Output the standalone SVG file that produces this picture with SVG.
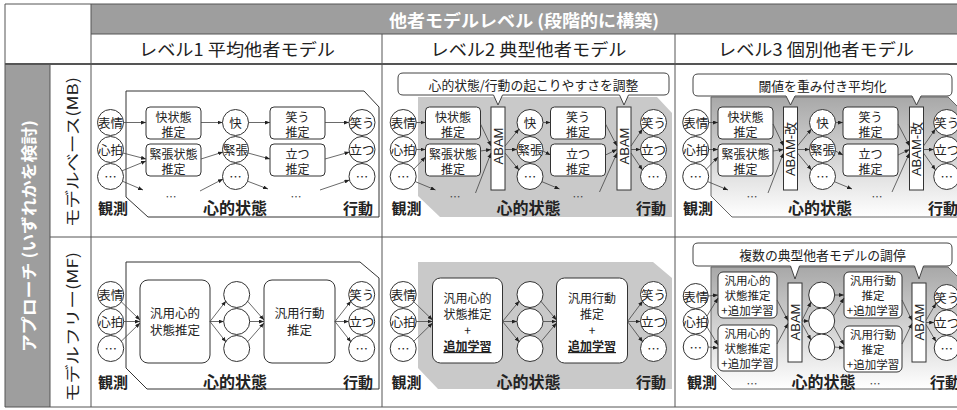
<svg xmlns="http://www.w3.org/2000/svg" width="957" height="410" viewBox="0 0 957 410">
<defs>
<style>
text{font-family:"Noto Sans CJK JP","Noto Sans CJK SC",sans-serif;fill:#222;text-anchor:middle;dominant-baseline:central}
.w{fill:#fff;font-weight:700}
.hd{font-size:17px}
.rl{font-size:15px}
.c{fill:#fff;stroke:#333;stroke-width:1}
.b{fill:#fff;stroke:#333;stroke-width:1}
.t{font-size:12.5px}
.bt{font-size:12px}
.t12{font-size:11.5px}
.lb{font-size:15px;font-weight:700;dominant-baseline:auto}
.ms{font-size:16px;font-weight:700;dominant-baseline:auto}
.dots{font-size:11px;fill:#444}
.ab{font-family:"Liberation Sans","Noto Sans CJK JP",sans-serif;font-size:13px}
.co{font-size:12.8px}
.grid{stroke:#555;stroke-width:1;fill:none}
.call{fill:#fff;stroke:#444;stroke-width:1}
.conn line{stroke:#444;stroke-width:0.8;marker-end:url(#ah)}
.ul{text-decoration:underline;font-weight:700}
</style>
<marker id="ah" markerUnits="userSpaceOnUse" markerWidth="5" markerHeight="4" refX="5" refY="2" orient="auto"><path d="M0,0 L5,2 L0,4 z" fill="#222"/></marker>
<linearGradient id="gr" x1="0" y1="0" x2="0" y2="1"><stop offset="0" stop-color="#a8a8a8"/><stop offset="1" stop-color="#ffffff"/></linearGradient>
</defs>
<rect x="0" y="0" width="957" height="410" fill="#fff"/>

<g id="table">
<rect x="91" y="4" width="866" height="30" fill="#9e9e9e"/>
<rect x="5" y="64" width="45" height="343" fill="#9e9e9e"/>
<path class="grid" d="M5,4 H957 M5,407 H957 M5,4 V407 M91,4 V407 M50,64 V407 M91,34 H957 M382,34 V407 M675,34 V407 M50,237 H957"/>
<path d="M5,64 H957" stroke="#555" stroke-width="2" fill="none"/>
<text class="w hd" x="524" y="19" textLength="270" lengthAdjust="spacingAndGlyphs">他者モデルレベル (段階的に構築)</text>
<text class="hd" x="237" y="48" textLength="196" lengthAdjust="spacingAndGlyphs">レベル1 平均他者モデル</text>
<text class="hd" x="528.5" y="48" textLength="196" lengthAdjust="spacingAndGlyphs">レベル2 典型他者モデル</text>
<text class="hd" x="816" y="48" textLength="196" lengthAdjust="spacingAndGlyphs">レベル3 個別他者モデル</text>
<text class="w" font-size="16" transform="translate(28,236) rotate(-90)" textLength="232" lengthAdjust="spacingAndGlyphs">アプローチ (いずれかを検討)</text>
<text class="rl" transform="translate(71,152) rotate(-90)" textLength="150" lengthAdjust="spacingAndGlyphs">モデルベース(MB)</text>
<text class="rl" transform="translate(71,327) rotate(-90)" textLength="150" lengthAdjust="spacingAndGlyphs">モデルフリー(MF)</text>
</g>

<!-- ===== MB L1 ===== -->
<g id="mb-l1">
<polygon points="126,91 364,91 379,107 379,217 148,217 126,197" fill="#fff" stroke="#333"/>
<g id="mb1-obs1"><circle class="c" cx="110.5" cy="122.5" r="13"/><text class="t" x="110.5" y="122.5">表情</text></g>
<g id="mb1-obs2"><circle class="c" cx="110.5" cy="149.5" r="13"/><text class="t" x="110.5" y="149.5">心拍</text></g>
<g id="mb1-obs3"><circle class="c" cx="110.5" cy="176.5" r="13"/><text class="t" x="110.5" y="176.5">…</text></g>
<g id="mb1-est1"><rect class="b" x="146" y="107" width="55" height="32" rx="4"/><text class="bt" x="173.5" y="116">快状態</text><text class="bt" x="173.5" y="131">推定</text></g>
<g id="mb1-est2"><rect class="b" x="146" y="144" width="55" height="32" rx="4"/><text class="bt" x="173.5" y="153">緊張状態</text><text class="bt" x="173.5" y="168">推定</text></g>
<g id="mb1-ms1"><circle class="c" cx="235.5" cy="122.5" r="13"/><text class="t" x="235.5" y="122.5">快</text></g>
<g id="mb1-ms2"><circle class="c" cx="235.5" cy="149.5" r="13"/><text class="t" x="235.5" y="149.5">緊張</text></g>
<g id="mb1-ms3"><circle class="c" cx="235.5" cy="176.5" r="13"/><text class="t" x="235.5" y="176.5">…</text></g>
<g id="mb1-act-est1"><rect class="b" x="270" y="107" width="55" height="32" rx="4"/><text class="bt" x="297.5" y="116">笑う</text><text class="bt" x="297.5" y="131">推定</text></g>
<g id="mb1-act-est2"><rect class="b" x="270" y="144" width="55" height="32" rx="4"/><text class="bt" x="297.5" y="153">立つ</text><text class="bt" x="297.5" y="168">推定</text></g>
<g id="mb1-act1"><circle class="c" cx="362" cy="122.5" r="13"/><text class="t" x="362" y="122.5">笑う</text></g>
<g id="mb1-act2"><circle class="c" cx="362" cy="149.5" r="13"/><text class="t" x="362" y="149.5">立つ</text></g>
<g id="mb1-act3"><circle class="c" cx="362" cy="176.5" r="13"/><text class="t" x="362" y="176.5">…</text></g>
<text class="dots" x="171" y="196">…</text>
<text class="dots" x="296" y="196">…</text>
<text class="lb" x="113" y="214">観測</text>
<text class="ms" x="235" y="214">心的状態</text>
<text class="lb" x="358" y="214">行動</text>
</g>

<!-- ===== MB L2 ===== -->
<g id="mb-l2" transform="translate(292.5,0)">
<polygon points="125.5,97 364.5,97 379.5,113 379.5,217 147.5,217 125.5,196" fill="#c9c9c9"/>
<g id="mb2-callout"><path class="call" d="M110.5,73 H371.5 Q376.5,73 376.5,78 V90 Q376.5,95 371.5,95 H336 L331.5,105 L327,95 H210 L205.5,105 L201,95 H110.5 Q105.5,95 105.5,90 V78 Q105.5,73 110.5,73 Z"/><text class="co" x="241" y="84">心的状態/行動の起こりやすさを調整</text></g>
<g id="mb2-obs1"><circle class="c" cx="110.7" cy="122.5" r="13"/><text class="t" x="110.7" y="122.5">表情</text></g>
<g id="mb2-obs2"><circle class="c" cx="110.7" cy="149.5" r="13"/><text class="t" x="110.7" y="149.5">心拍</text></g>
<g id="mb2-obs3"><circle class="c" cx="110.7" cy="176.5" r="13"/><text class="t" x="110.7" y="176.5">…</text></g>
<g id="mb2-est1"><rect class="b" x="133" y="107" width="55" height="32" rx="4"/><text class="bt" x="160.5" y="116">快状態</text><text class="bt" x="160.5" y="131">推定</text></g>
<g id="mb2-est2"><rect class="b" x="133" y="144" width="55" height="32" rx="4"/><text class="bt" x="160.5" y="153">緊張状態</text><text class="bt" x="160.5" y="168">推定</text></g>
<g id="mb2-abam1"><rect class="b" x="198.5" y="107" width="14" height="83"/><text class="ab" transform="translate(205.5,146) rotate(-90)">ABAM</text></g>
<g id="mb2-ms1"><circle class="c" cx="237.5" cy="122.5" r="13"/><text class="t" x="237.5" y="122.5">快</text></g>
<g id="mb2-ms2"><circle class="c" cx="237.5" cy="149.5" r="13"/><text class="t" x="237.5" y="149.5">緊張</text></g>
<g id="mb2-ms3"><circle class="c" cx="237.5" cy="176.5" r="13"/><text class="t" x="237.5" y="176.5">…</text></g>
<g id="mb2-act-est1"><rect class="b" x="258" y="107" width="55" height="32" rx="4"/><text class="bt" x="285.5" y="116">笑う</text><text class="bt" x="285.5" y="131">推定</text></g>
<g id="mb2-act-est2"><rect class="b" x="258" y="144" width="55" height="32" rx="4"/><text class="bt" x="285.5" y="153">立つ</text><text class="bt" x="285.5" y="168">推定</text></g>
<g id="mb2-abam2"><rect class="b" x="324.5" y="107" width="14" height="83"/><text class="ab" transform="translate(331.5,146) rotate(-90)">ABAM</text></g>
<g id="mb2-act1"><circle class="c" cx="361" cy="122.5" r="13"/><text class="t" x="361" y="122.5">笑う</text></g>
<g id="mb2-act2"><circle class="c" cx="361" cy="149.5" r="13"/><text class="t" x="361" y="149.5">立つ</text></g>
<g id="mb2-act3"><circle class="c" cx="361" cy="176.5" r="13"/><text class="t" x="361" y="176.5">…</text></g>
<text class="dots" x="162.5" y="196">…</text>
<text class="dots" x="285.5" y="196">…</text>
<text class="lb" x="114" y="214">観測</text>
<text class="ms" x="236" y="214">心的状態</text>
<text class="lb" x="358.5" y="214">行動</text>
</g>

<!-- ===== MB L3 ===== -->
<g id="mb-l3" transform="translate(585,0)">
<polygon points="126,97 363,97 379,113 379,217 147,217 126,196" fill="url(#gr)" stroke="#666"/>
<g id="mb3-callout"><path class="call" d="M113,74 H362 Q367,74 367,79 V91 Q367,96 362,96 H336 L331.5,105 L327,96 H210 L205.5,105 L201,96 H113 Q108,96 108,91 V79 Q108,74 113,74 Z"/><text class="co" x="237.5" y="85">閾値を重み付き平均化</text></g>
<g id="mb3-obs1"><circle class="c" cx="110.7" cy="122.5" r="13"/><text class="t" x="110.7" y="122.5">表情</text></g>
<g id="mb3-obs2"><circle class="c" cx="110.7" cy="149.5" r="13"/><text class="t" x="110.7" y="149.5">心拍</text></g>
<g id="mb3-obs3"><circle class="c" cx="110.7" cy="176.5" r="13"/><text class="t" x="110.7" y="176.5">…</text></g>
<g id="mb3-est1"><rect class="b" x="133" y="107" width="55" height="32" rx="4"/><text class="bt" x="160.5" y="116">快状態</text><text class="bt" x="160.5" y="131">推定</text></g>
<g id="mb3-est2"><rect class="b" x="133" y="144" width="55" height="32" rx="4"/><text class="bt" x="160.5" y="153">緊張状態</text><text class="bt" x="160.5" y="168">推定</text></g>
<g id="mb3-abam1"><rect class="b" x="198.5" y="107" width="14" height="83"/><text class="ab" transform="translate(205.5,149) rotate(-90)">ABAM-改</text></g>
<g id="mb3-ms1"><circle class="c" cx="237.5" cy="122.5" r="13"/><text class="t" x="237.5" y="122.5">快</text></g>
<g id="mb3-ms2"><circle class="c" cx="237.5" cy="149.5" r="13"/><text class="t" x="237.5" y="149.5">緊張</text></g>
<g id="mb3-ms3"><circle class="c" cx="237.5" cy="176.5" r="13"/><text class="t" x="237.5" y="176.5">…</text></g>
<g id="mb3-act-est1"><rect class="b" x="258" y="107" width="55" height="32" rx="4"/><text class="bt" x="285.5" y="116">笑う</text><text class="bt" x="285.5" y="131">推定</text></g>
<g id="mb3-act-est2"><rect class="b" x="258" y="144" width="55" height="32" rx="4"/><text class="bt" x="285.5" y="153">立つ</text><text class="bt" x="285.5" y="168">推定</text></g>
<g id="mb3-abam2"><rect class="b" x="324.5" y="107" width="14" height="83"/><text class="ab" transform="translate(331.5,149) rotate(-90)">ABAM-改</text></g>
<g id="mb3-act1"><circle class="c" cx="361.7" cy="122.5" r="13"/><text class="t" x="361.7" y="122.5">笑う</text></g>
<g id="mb3-act2"><circle class="c" cx="361.7" cy="149.5" r="13"/><text class="t" x="361.7" y="149.5">立つ</text></g>
<g id="mb3-act3"><circle class="c" cx="361.7" cy="176.5" r="13"/><text class="t" x="361.7" y="176.5">…</text></g>
<text class="dots" x="167" y="196">…</text>
<text class="dots" x="292" y="196">…</text>
<text class="lb" x="113" y="214">観測</text>
<text class="ms" x="235" y="214">心的状態</text>
<text class="lb" x="358" y="214">行動</text>
</g>

<!-- ===== MF L1 ===== -->
<g id="mf-l1">
<polygon points="126,262 360,262 379,278 379,389 147,389 126,368" fill="#fff" stroke="#333"/>
<g id="mf1-obs1"><circle class="c" cx="110.7" cy="294.5" r="13"/><text class="t" x="110.7" y="294.5">表情</text></g>
<g id="mf1-obs2"><circle class="c" cx="110.7" cy="321.5" r="13"/><text class="t" x="110.7" y="321.5">心拍</text></g>
<g id="mf1-obs3"><circle class="c" cx="110.7" cy="348.5" r="13"/><text class="t" x="110.7" y="348.5">…</text></g>
<g id="mf1-est"><rect class="b" x="140" y="280" width="70" height="83" rx="8"/><text class="t" x="175" y="312.5">汎用心的</text><text class="t" x="175" y="329.5">状態推定</text></g>
<g id="mf1-ms1"><circle class="c" cx="236.7" cy="294.5" r="13"/></g>
<g id="mf1-ms2"><circle class="c" cx="236.7" cy="321.5" r="13"/></g>
<g id="mf1-ms3"><circle class="c" cx="236.7" cy="348.5" r="13"/></g>
<g id="mf1-act-est"><rect class="b" x="264" y="280" width="71" height="83" rx="8"/><text class="t" x="299.5" y="312.5">汎用行動</text><text class="t" x="299.5" y="329.5">推定</text></g>
<g id="mf1-act1"><circle class="c" cx="361.7" cy="294.5" r="13"/><text class="t" x="361.7" y="294.5">笑う</text></g>
<g id="mf1-act2"><circle class="c" cx="361.7" cy="321.5" r="13"/><text class="t" x="361.7" y="321.5">立つ</text></g>
<g id="mf1-act3"><circle class="c" cx="361.7" cy="348.5" r="13"/><text class="t" x="361.7" y="348.5">…</text></g>
<text class="lb" x="113" y="388">観測</text>
<text class="ms" x="235" y="388">心的状態</text>
<text class="lb" x="358" y="388">行動</text>
</g>

<!-- ===== MF L2 ===== -->
<g id="mf-l2" transform="translate(292.5,0)">
<polygon points="125.5,262 360.5,262 379.5,278 379.5,389 145.5,389 125.5,368" fill="#c9c9c9"/>
<g id="mf2-obs1"><circle class="c" cx="110.7" cy="294.5" r="13"/><text class="t" x="110.7" y="294.5">表情</text></g>
<g id="mf2-obs2"><circle class="c" cx="110.7" cy="321.5" r="13"/><text class="t" x="110.7" y="321.5">心拍</text></g>
<g id="mf2-obs3"><circle class="c" cx="110.7" cy="348.5" r="13"/><text class="t" x="110.7" y="348.5">…</text></g>
<g id="mf2-est"><rect class="b" x="140" y="278" width="70" height="85" rx="8"/><text class="bt" x="175" y="297.5">汎用心的</text><text class="bt" x="175" y="313.5">状態推定</text><text class="bt" x="175" y="329.5">+</text><text class="bt ul" x="175" y="345.5">追加学習</text></g>
<g id="mf2-ms1"><circle class="c" cx="237.5" cy="294.5" r="13"/></g>
<g id="mf2-ms2"><circle class="c" cx="237.5" cy="321.5" r="13"/></g>
<g id="mf2-ms3"><circle class="c" cx="237.5" cy="348.5" r="13"/></g>
<g id="mf2-act-est"><rect class="b" x="264" y="278" width="71" height="85" rx="8"/><text class="bt" x="299.5" y="297.5">汎用行動</text><text class="bt" x="299.5" y="313.5">推定</text><text class="bt" x="299.5" y="329.5">+</text><text class="bt ul" x="299.5" y="345.5">追加学習</text></g>
<g id="mf2-act1"><circle class="c" cx="361" cy="294.5" r="13"/><text class="t" x="361" y="294.5">笑う</text></g>
<g id="mf2-act2"><circle class="c" cx="361" cy="321.5" r="13"/><text class="t" x="361" y="321.5">立つ</text></g>
<g id="mf2-act3"><circle class="c" cx="361" cy="348.5" r="13"/><text class="t" x="361" y="348.5">…</text></g>
<text class="lb" x="114" y="388">観測</text>
<text class="ms" x="236" y="388">心的状態</text>
<text class="lb" x="358.5" y="388">行動</text>
</g>

<!-- ===== MF L3 ===== -->
<g id="mf-l3" transform="translate(585,0)">
<polygon points="126,267 363,267 379,283 379,389 147,389 126,368" fill="url(#gr)" stroke="#666"/>
<g id="mf3-callout"><path class="call" d="M113,243 H362 Q367,243 367,248 V261 Q367,266 362,266 H338.5 L334,279 L329.5,266 H214.5 L210,279 L205.5,266 H113 Q108,266 108,261 V248 Q108,243 113,243 Z"/><text class="co" x="237.5" y="254.5">複数の典型他者モデルの調停</text></g>
<g id="mf3-obs1"><circle class="c" cx="110.7" cy="296" r="12.5"/><text class="t" x="110.7" y="296">表情</text></g>
<g id="mf3-obs2"><circle class="c" cx="110.7" cy="321.5" r="12.5"/><text class="t" x="110.7" y="321.5">心拍</text></g>
<g id="mf3-obs3"><circle class="c" cx="110.7" cy="347" r="12.5"/><text class="t" x="110.7" y="347">…</text></g>
<g id="mf3-est1"><rect class="b" x="133" y="272" width="59" height="46" rx="5"/><text class="t12" x="162.5" y="280">汎用心的</text><text class="t12" x="162.5" y="295">状態推定</text><text class="t12" x="162.5" y="310">+追加学習</text></g>
<g id="mf3-est2"><rect class="b" x="133" y="325" width="59" height="46" rx="5"/><text class="t12" x="162.5" y="333">汎用心的</text><text class="t12" x="162.5" y="348">状態推定</text><text class="t12" x="162.5" y="363">+追加学習</text></g>
<g id="mf3-abam1"><rect class="b" x="203" y="283" width="14" height="79"/><text class="ab" font-size="12.5" transform="translate(210,322) rotate(-90)">ABAM</text></g>
<g id="mf3-ms1"><circle class="c" cx="236.7" cy="295" r="13"/></g>
<g id="mf3-ms2"><circle class="c" cx="236.7" cy="321" r="13"/></g>
<g id="mf3-ms3"><circle class="c" cx="236.7" cy="347" r="13"/></g>
<g id="mf3-act-est1"><rect class="b" x="259" y="272" width="58" height="46" rx="5"/><text class="t12" x="288" y="280">汎用行動</text><text class="t12" x="288" y="295">推定</text><text class="t12" x="288" y="310">+追加学習</text></g>
<g id="mf3-act-est2"><rect class="b" x="259" y="326" width="58" height="46" rx="5"/><text class="t12" x="288" y="334">汎用行動</text><text class="t12" x="288" y="349">推定</text><text class="t12" x="288" y="364">+追加学習</text></g>
<g id="mf3-abam2"><rect class="b" x="327" y="283" width="14" height="79"/><text class="ab" font-size="12.5" transform="translate(334,322) rotate(-90)">ABAM</text></g>
<g id="mf3-act1"><circle class="c" cx="361.7" cy="297" r="12.5"/><text class="t" x="361.7" y="297">笑う</text></g>
<g id="mf3-act2"><circle class="c" cx="361.7" cy="322.5" r="12.5"/><text class="t" x="361.7" y="322.5">立つ</text></g>
<g id="mf3-act3"><circle class="c" cx="361.7" cy="348" r="12.5"/><text class="t" x="361.7" y="348">…</text></g>
<text class="lb" x="117" y="388">観測</text>
<text class="dots" x="167" y="383">…</text>
<text class="ms" x="238.5" y="388">心的状態</text>
<text class="dots" x="290" y="383">…</text>
<text class="lb" x="360" y="388">行動</text>
</g>

<!-- ===== connectors ===== -->
<g id="connectors" class="conn">
<g id="conn-mb-l1">
<line x1="123.5" y1="122.5" x2="146" y2="122.5"/>
<line x1="201" y1="122.5" x2="222.5" y2="122.5"/>
<line x1="248.5" y1="122.5" x2="270" y2="122.5"/>
<line x1="325" y1="122.5" x2="349" y2="122.5"/>
<line x1="123" y1="153" x2="146" y2="159"/>
<line x1="121.5" y1="171" x2="146" y2="161"/>
<line x1="122" y1="181" x2="143" y2="190"/>
<line x1="201" y1="159" x2="223" y2="152"/>
<line x1="200" y1="191" x2="223" y2="179"/>
<line x1="248" y1="153" x2="270" y2="159"/>
<line x1="247" y1="181" x2="268" y2="189"/>
<line x1="325" y1="159" x2="349.5" y2="152"/>
<line x1="320" y1="190" x2="349.5" y2="180"/>
</g>
<g id="conn-mb-l2" transform="translate(292.5,0)">
<line x1="123.7" y1="122.5" x2="133" y2="122.5"/>
<line x1="123.7" y1="149.5" x2="133" y2="149.5"/>
<line x1="121" y1="169.5" x2="133" y2="157"/>
<line x1="122.5" y1="181.5" x2="143" y2="190"/>
<line x1="188" y1="124" x2="198.5" y2="146"/>
<line x1="188" y1="151" x2="198.5" y2="149.5"/>
<line x1="183" y1="193" x2="198.5" y2="153"/>
<line x1="212.5" y1="146" x2="226.5" y2="129"/>
<line x1="212.5" y1="149.5" x2="224.5" y2="149.5"/>
<line x1="212.5" y1="153" x2="226.5" y2="170"/>
<line x1="250.5" y1="122.5" x2="258" y2="122.5"/>
<line x1="250.5" y1="151" x2="258" y2="155"/>
<line x1="249" y1="181.5" x2="267" y2="189"/>
<line x1="313" y1="124" x2="324.5" y2="146"/>
<line x1="313" y1="155" x2="324.5" y2="149.5"/>
<line x1="307" y1="192" x2="324.5" y2="153"/>
<line x1="338.5" y1="146" x2="350" y2="129"/>
<line x1="338.5" y1="149.5" x2="348" y2="149.5"/>
<line x1="338.5" y1="153" x2="350" y2="170"/>
</g>
<g id="conn-mb-l3" transform="translate(585,0)">
<line x1="123.7" y1="122.5" x2="133" y2="122.5"/>
<line x1="123.7" y1="149.5" x2="133" y2="149.5"/>
<line x1="121" y1="169.5" x2="133" y2="157"/>
<line x1="122.5" y1="181.5" x2="143" y2="190"/>
<line x1="188" y1="124" x2="198.5" y2="146"/>
<line x1="188" y1="151" x2="198.5" y2="149.5"/>
<line x1="183" y1="193" x2="198.5" y2="153"/>
<line x1="212.5" y1="146" x2="226.5" y2="129"/>
<line x1="212.5" y1="149.5" x2="224.5" y2="149.5"/>
<line x1="212.5" y1="153" x2="226.5" y2="170"/>
<line x1="250.5" y1="122.5" x2="258" y2="122.5"/>
<line x1="250.5" y1="151" x2="258" y2="155"/>
<line x1="249" y1="181.5" x2="267" y2="189"/>
<line x1="313" y1="124" x2="324.5" y2="146"/>
<line x1="313" y1="155" x2="324.5" y2="149.5"/>
<line x1="307" y1="192" x2="324.5" y2="153"/>
<line x1="338.5" y1="146" x2="350.5" y2="129"/>
<line x1="338.5" y1="149.5" x2="348.7" y2="149.5"/>
<line x1="338.5" y1="153" x2="350.5" y2="170"/>
</g>
<g id="conn-mf-l1">
<line x1="121" y1="301.5" x2="140" y2="320"/>
<line x1="123.7" y1="321.5" x2="140" y2="321.5"/>
<line x1="121" y1="341.5" x2="140" y2="323"/>
<line x1="210" y1="321.5" x2="226" y2="301"/>
<line x1="210" y1="321.5" x2="223.7" y2="321.5"/>
<line x1="210" y1="321.5" x2="226" y2="342"/>
<line x1="247.4" y1="301" x2="264" y2="320"/>
<line x1="249.7" y1="321.5" x2="264" y2="321.5"/>
<line x1="247.4" y1="342" x2="264" y2="323"/>
<line x1="335" y1="321.5" x2="351" y2="301"/>
<line x1="335" y1="321.5" x2="348.7" y2="321.5"/>
<line x1="335" y1="321.5" x2="351" y2="342"/>
</g>
<g id="conn-mf-l2" transform="translate(292.5,0)">
<line x1="121" y1="301.5" x2="140" y2="320"/>
<line x1="123.7" y1="321.5" x2="140" y2="321.5"/>
<line x1="121" y1="341.5" x2="140" y2="323"/>
<line x1="210" y1="321.5" x2="226.8" y2="301"/>
<line x1="210" y1="321.5" x2="224.5" y2="321.5"/>
<line x1="210" y1="321.5" x2="226.8" y2="342"/>
<line x1="248.2" y1="301" x2="264" y2="320"/>
<line x1="250.5" y1="321.5" x2="264" y2="321.5"/>
<line x1="248.2" y1="342" x2="264" y2="323"/>
<line x1="335" y1="321.5" x2="350.3" y2="301"/>
<line x1="335" y1="321.5" x2="348" y2="321.5"/>
<line x1="335" y1="321.5" x2="350.3" y2="342"/>
</g>
<g id="conn-mf-l3" transform="translate(585,0)">
<line x1="123.2" y1="296" x2="133" y2="295"/>
<line x1="122" y1="316" x2="133" y2="298"/>
<line x1="122" y1="327" x2="133" y2="345"/>
<line x1="123.2" y1="347" x2="133" y2="348"/>
<line x1="192" y1="300" x2="203" y2="320.5"/>
<line x1="192" y1="344" x2="203" y2="323.5"/>
<line x1="217" y1="320.5" x2="226" y2="302"/>
<line x1="217" y1="321" x2="223.7" y2="321"/>
<line x1="217" y1="323.5" x2="226" y2="340"/>
<line x1="249.7" y1="295" x2="259" y2="295"/>
<line x1="248.5" y1="316" x2="259" y2="298"/>
<line x1="248.5" y1="326" x2="259" y2="345"/>
<line x1="249.7" y1="347" x2="259" y2="348"/>
<line x1="317" y1="300" x2="327" y2="320.5"/>
<line x1="317" y1="344" x2="327" y2="323.5"/>
<line x1="341" y1="320.5" x2="351" y2="303.5"/>
<line x1="341" y1="322.5" x2="349.2" y2="322.5"/>
<line x1="341" y1="324.5" x2="351" y2="341.5"/>
</g>
</g>
</svg>
